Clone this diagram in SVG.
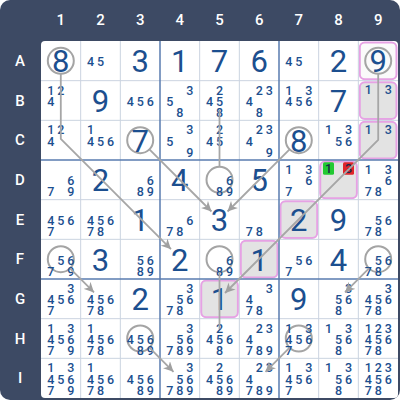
<svg xmlns="http://www.w3.org/2000/svg" width="400" height="400" viewBox="0 0 400 400">
<style>
.lbl{font-family:Roboto,"Liberation Sans",sans-serif;font-size:15px;font-weight:500;fill:#ffffff;text-anchor:middle;dominant-baseline:central}
.g{font-family:Roboto,"Liberation Sans",sans-serif;font-size:31px;font-weight:400;fill:#1c4f8f;text-anchor:middle;dominant-baseline:central}
.c{font-family:Roboto,"Liberation Sans",sans-serif;font-size:12.5px;font-weight:500;fill:#1c4f8f;text-anchor:middle;dominant-baseline:central}
.thin{stroke:#cbd4e0;stroke-width:1}
.box{stroke:#5a7cb0;stroke-width:1.5}
.hl{fill:#e3e3e3;stroke:#e6a2e4;stroke-width:2}
.ring{fill:none;stroke:#a4a4a4;stroke-width:2}
.link{fill:none;stroke:#a6a6a6;stroke-width:1.8}
</style>
<defs>
<marker id="arr" markerWidth="10" markerHeight="10" refX="10" refY="5" orient="auto" markerUnits="userSpaceOnUse">
<path d="M0,0 L10,5 L0,10 L3,5 z" fill="#a0a0a0"/>
</marker>
</defs>
<rect x="0" y="0" width="400" height="400" rx="10" fill="#3d4a64"/>
<rect x="41" y="41" width="357" height="357" rx="4" fill="#ffffff"/>
<g id="labels">
<text class="lbl" x="60.8" y="20">1</text><text class="lbl" x="100.5" y="20">2</text><text class="lbl" x="140.2" y="20">3</text><text class="lbl" x="179.8" y="20">4</text><text class="lbl" x="219.5" y="20">5</text><text class="lbl" x="259.2" y="20">6</text><text class="lbl" x="298.8" y="20">7</text><text class="lbl" x="338.5" y="20">8</text><text class="lbl" x="378.2" y="20">9</text>
<text class="lbl" x="20" y="60.8">A</text><text class="lbl" x="20" y="100.5">B</text><text class="lbl" x="20" y="140.2">C</text><text class="lbl" x="20" y="179.8">D</text><text class="lbl" x="20" y="219.5">E</text><text class="lbl" x="20" y="259.2">F</text><text class="lbl" x="20" y="298.8">G</text><text class="lbl" x="20" y="338.5">H</text><text class="lbl" x="20" y="378.2">I</text>
</g>
<g id="highlights">
<rect class="hl" x="359.8" y="42.5" width="36.7" height="36.7" rx="5" style="fill:#fafafa"/>
<rect class="hl" x="359.8" y="82.2" width="36.7" height="36.7" rx="5"/>
<rect class="hl" x="359.8" y="121.8" width="36.7" height="36.7" rx="5"/>
<rect class="hl" x="320.2" y="161.5" width="36.7" height="36.7" rx="5"/>
<rect class="hl" x="280.5" y="201.2" width="36.7" height="36.7" rx="5"/>
<rect class="hl" x="240.8" y="240.8" width="36.7" height="36.7" rx="5"/>
<rect class="hl" x="201.2" y="280.5" width="36.7" height="36.7" rx="5"/>
</g>
<g id="gridlines">
<path class="thin" d="M80.67,41V398M120.33,41V398M199.67,41V398M239.33,41V398M318.67,41V398M358.33,41V398M41,80.67H398M41,120.33H398M41,199.67H398M41,239.33H398M41,318.67H398M41,358.33H398"/>
<path class="box" d="M160,41V398M279,41V398M41,160H398M41,279H398"/>
</g>
<g id="rings">
<circle class="ring" cx="60.8" cy="60.8" r="13"/>
<circle class="ring" cx="378.2" cy="60.8" r="13"/>
<circle class="ring" cx="140.2" cy="140.2" r="13"/>
<circle class="ring" cx="298.8" cy="140.2" r="13"/>
<circle class="ring" cx="219.5" cy="179.8" r="13"/>
<circle class="ring" cx="60.8" cy="259.2" r="13"/>
<circle class="ring" cx="219.5" cy="259.2" r="13"/>
<circle class="ring" cx="378.2" cy="259.2" r="13"/>
<circle class="ring" cx="140.2" cy="338.5" r="13"/>
<circle class="ring" cx="298.8" cy="338.5" r="13"/>
</g>
<g id="A1"><text class="g" x="60.8" y="61.8">8</text></g>
<g id="A2"><text class="c" x="90.5 100.5" y="61.3">45</text></g>
<g id="A3"><text class="g" x="140.2" y="61.8">3</text></g>
<g id="A4"><text class="g" x="179.8" y="61.8">1</text></g>
<g id="A5"><text class="g" x="219.5" y="61.8">7</text></g>
<g id="A6"><text class="g" x="259.2" y="61.8">6</text></g>
<g id="A7"><text class="c" x="288.8 298.8" y="61.3">45</text></g>
<g id="A8"><text class="g" x="338.5" y="61.8">2</text></g>
<g id="A9"><text class="g" x="378.2" y="61.8">9</text></g>

<g id="B1"><text class="c"><tspan x="50.8 60.8" y="89.5">12</tspan><tspan x="50.8" y="101">4</tspan></text></g>
<g id="B2"><text class="g" x="100.5" y="101.5">9</text></g>
<g id="B3"><text class="c" x="130.2 140.2 150.2" y="101">456</text></g>
<g id="B4"><text class="c"><tspan x="189.8" y="89.5">3</tspan><tspan x="169.8" y="101">5</tspan><tspan x="179.8" y="112">8</tspan></text></g>
<g id="B5"><text class="c"><tspan x="219.5" y="89.5">2</tspan><tspan x="209.5 219.5" y="101">45</tspan><tspan x="219.5" y="112">8</tspan></text></g>
<g id="B6"><text class="c"><tspan x="259.2 269.2" y="89.5">23</tspan><tspan x="249.2" y="101">4</tspan><tspan x="259.2" y="112">8</tspan></text></g>
<g id="B7"><text class="c"><tspan x="288.8 308.8" y="89.5">13</tspan><tspan x="288.8 298.8 308.8" y="101">456</tspan></text></g>
<g id="B8"><text class="g" x="338.5" y="101.5">7</text></g>
<g id="B9"><text class="c" x="368.2 388.2" y="89.5">13</text></g>

<g id="C1"><text class="c"><tspan x="50.8 60.8" y="129.2">12</tspan><tspan x="50.8" y="140.7">4</tspan></text></g>
<g id="C2"><text class="c"><tspan x="90.5" y="129.2">1</tspan><tspan x="90.5 100.5 110.5" y="140.7">456</tspan></text></g>
<g id="C3"><text class="g" x="140.2" y="141.2">7</text></g>
<g id="C4"><text class="c"><tspan x="189.8" y="129.2">3</tspan><tspan x="169.8" y="140.7">5</tspan><tspan x="189.8" y="151.7">9</tspan></text></g>
<g id="C5"><text class="c"><tspan x="219.5" y="129.2">2</tspan><tspan x="209.5 219.5" y="140.7">45</tspan></text></g>
<g id="C6"><text class="c"><tspan x="259.2 269.2" y="129.2">23</tspan><tspan x="249.2" y="140.7">4</tspan><tspan x="269.2" y="151.7">9</tspan></text></g>
<g id="C7"><text class="g" x="298.8" y="141.2">8</text></g>
<g id="C8"><text class="c"><tspan x="328.5 348.5" y="129.2">13</tspan><tspan x="338.5 348.5" y="140.7">56</tspan></text></g>
<g id="C9"><text class="c" x="368.2 388.2" y="129.2">13</text></g>

<g id="D1"><text class="c"><tspan x="70.8" y="180.3">6</tspan><tspan x="50.8 70.8" y="191.3">79</tspan></text></g>
<g id="D2"><text class="g" x="100.5" y="180.8">2</text></g>
<g id="D3"><text class="c"><tspan x="150.2" y="180.3">6</tspan><tspan x="140.2 150.2" y="191.3">89</tspan></text></g>
<g id="D4"><text class="g" x="179.8" y="180.8">4</text></g>
<g id="D5"><text class="c"><tspan x="229.5" y="180.3">6</tspan><tspan x="219.5 229.5" y="191.3">89</tspan></text></g>
<g id="D6"><text class="g" x="259.2" y="180.8">5</text></g>
<g id="D7"><text class="c"><tspan x="288.8 308.8" y="168.8">13</tspan><tspan x="308.8" y="180.3">6</tspan><tspan x="288.8" y="191.3">7</tspan></text></g>
<g id="D8"><rect x="323" y="162.3" width="11" height="12.5" rx="1.5" fill="#22c932"/><rect x="343" y="162.3" width="11" height="12.5" rx="1.5" fill="#e0242a"/><text class="c" x="328.5 348.5" y="168.8" style="fill:#1a2a4a">13</text></g>
<g id="D9"><text class="c"><tspan x="368.2 388.2" y="168.8">13</tspan><tspan x="388.2" y="180.3">6</tspan><tspan x="368.2 378.2" y="191.3">78</tspan></text></g>

<g id="E1"><text class="c"><tspan x="50.8 60.8 70.8" y="220">456</tspan><tspan x="50.8" y="231">7</tspan></text></g>
<g id="E2"><text class="c"><tspan x="90.5 100.5 110.5" y="220">456</tspan><tspan x="90.5 100.5" y="231">78</tspan></text></g>
<g id="E3"><text class="g" x="140.2" y="220.5">1</text></g>
<g id="E4"><text class="c"><tspan x="189.8" y="220">6</tspan><tspan x="169.8 179.8" y="231">78</tspan></text></g>
<g id="E5"><text class="g" x="219.5" y="220.5">3</text></g>
<g id="E6"><text class="c" x="249.2 259.2" y="231">78</text></g>
<g id="E7"><text class="g" x="298.8" y="220.5">2</text></g>
<g id="E8"><text class="g" x="338.5" y="220.5">9</text></g>
<g id="E9"><text class="c"><tspan x="378.2 388.2" y="220">56</tspan><tspan x="368.2 378.2" y="231">78</tspan></text></g>

<g id="F1"><text class="c"><tspan x="60.8 70.8" y="259.7">56</tspan><tspan x="50.8 70.8" y="270.7">79</tspan></text></g>
<g id="F2"><text class="g" x="100.5" y="260.2">3</text></g>
<g id="F3"><text class="c"><tspan x="140.2 150.2" y="259.7">56</tspan><tspan x="140.2 150.2" y="270.7">89</tspan></text></g>
<g id="F4"><text class="g" x="179.8" y="260.2">2</text></g>
<g id="F5"><text class="c"><tspan x="229.5" y="259.7">6</tspan><tspan x="219.5 229.5" y="270.7">89</tspan></text></g>
<g id="F6"><text class="g" x="259.2" y="260.2">1</text></g>
<g id="F7"><text class="c"><tspan x="298.8 308.8" y="259.7">56</tspan><tspan x="288.8" y="270.7">7</tspan></text></g>
<g id="F8"><text class="g" x="338.5" y="260.2">4</text></g>
<g id="F9"><text class="c"><tspan x="378.2 388.2" y="259.7">56</tspan><tspan x="368.2 378.2" y="270.7">78</tspan></text></g>

<g id="G1"><text class="c"><tspan x="70.8" y="287.8">3</tspan><tspan x="50.8 60.8 70.8" y="299.3">456</tspan><tspan x="50.8" y="310.3">7</tspan></text></g>
<g id="G2"><text class="c"><tspan x="90.5 100.5 110.5" y="299.3">456</tspan><tspan x="90.5 100.5" y="310.3">78</tspan></text></g>
<g id="G3"><text class="g" x="140.2" y="299.8">2</text></g>
<g id="G4"><text class="c"><tspan x="189.8" y="287.8">3</tspan><tspan x="179.8 189.8" y="299.3">56</tspan><tspan x="169.8 179.8" y="310.3">78</tspan></text></g>
<g id="G5"><text class="g" x="219.5" y="299.8">1</text></g>
<g id="G6"><text class="c"><tspan x="269.2" y="287.8">3</tspan><tspan x="249.2" y="299.3">4</tspan><tspan x="249.2 259.2" y="310.3">78</tspan></text></g>
<g id="G7"><text class="g" x="298.8" y="299.8">9</text></g>
<g id="G8"><text class="c"><tspan x="348.5" y="287.8">3</tspan><tspan x="338.5 348.5" y="299.3">56</tspan><tspan x="338.5" y="310.3">8</tspan></text></g>
<g id="G9"><text class="c"><tspan x="388.2" y="287.8">3</tspan><tspan x="368.2 378.2 388.2" y="299.3">456</tspan><tspan x="368.2 378.2" y="310.3">78</tspan></text></g>

<g id="H1"><text class="c"><tspan x="50.8 70.8" y="327.5">13</tspan><tspan x="50.8 60.8 70.8" y="339">456</tspan><tspan x="50.8 70.8" y="350">79</tspan></text></g>
<g id="H2"><text class="c"><tspan x="90.5" y="327.5">1</tspan><tspan x="90.5 100.5 110.5" y="339">456</tspan><tspan x="90.5 100.5" y="350">78</tspan></text></g>
<g id="H3"><text class="c"><tspan x="130.2 140.2 150.2" y="339">456</tspan><tspan x="140.2 150.2" y="350">89</tspan></text></g>
<g id="H4"><text class="c"><tspan x="189.8" y="327.5">3</tspan><tspan x="179.8 189.8" y="339">56</tspan><tspan x="169.8 179.8 189.8" y="350">789</tspan></text></g>
<g id="H5"><text class="c"><tspan x="219.5" y="327.5">2</tspan><tspan x="209.5 219.5 229.5" y="339">456</tspan><tspan x="219.5" y="350">8</tspan></text></g>
<g id="H6"><text class="c"><tspan x="259.2 269.2" y="327.5">23</tspan><tspan x="249.2" y="339">4</tspan><tspan x="249.2 259.2 269.2" y="350">789</tspan></text></g>
<g id="H7"><text class="c"><tspan x="288.8 308.8" y="327.5">13</tspan><tspan x="288.8 298.8 308.8" y="339">456</tspan><tspan x="288.8" y="350">7</tspan></text></g>
<g id="H8"><text class="c"><tspan x="328.5 348.5" y="327.5">13</tspan><tspan x="338.5 348.5" y="339">56</tspan><tspan x="338.5" y="350">8</tspan></text></g>
<g id="H9"><text class="c"><tspan x="368.2 378.2 388.2" y="327.5">123</tspan><tspan x="368.2 378.2 388.2" y="339">456</tspan><tspan x="368.2 378.2" y="350">78</tspan></text></g>

<g id="I1"><text class="c"><tspan x="50.8 70.8" y="367.2">13</tspan><tspan x="50.8 60.8 70.8" y="378.7">456</tspan><tspan x="50.8 70.8" y="389.7">79</tspan></text></g>
<g id="I2"><text class="c"><tspan x="90.5" y="367.2">1</tspan><tspan x="90.5 100.5 110.5" y="378.7">456</tspan><tspan x="90.5 100.5" y="389.7">78</tspan></text></g>
<g id="I3"><text class="c"><tspan x="130.2 140.2 150.2" y="378.7">456</tspan><tspan x="140.2 150.2" y="389.7">89</tspan></text></g>
<g id="I4"><text class="c"><tspan x="189.8" y="367.2">3</tspan><tspan x="179.8 189.8" y="378.7">56</tspan><tspan x="169.8 179.8 189.8" y="389.7">789</tspan></text></g>
<g id="I5"><text class="c"><tspan x="219.5" y="367.2">2</tspan><tspan x="209.5 219.5 229.5" y="378.7">456</tspan><tspan x="219.5 229.5" y="389.7">89</tspan></text></g>
<g id="I6"><text class="c"><tspan x="259.2 269.2" y="367.2">23</tspan><tspan x="249.2" y="378.7">4</tspan><tspan x="249.2 259.2 269.2" y="389.7">789</tspan></text></g>
<g id="I7"><text class="c"><tspan x="288.8 308.8" y="367.2">13</tspan><tspan x="288.8 298.8 308.8" y="378.7">456</tspan><tspan x="288.8" y="389.7">7</tspan></text></g>
<g id="I8"><text class="c"><tspan x="328.5 348.5" y="367.2">13</tspan><tspan x="338.5 348.5" y="378.7">56</tspan><tspan x="338.5" y="389.7">8</tspan></text></g>
<g id="I9"><text class="c"><tspan x="368.2 378.2 388.2" y="367.2">123</tspan><tspan x="368.2 378.2 388.2" y="378.7">456</tspan><tspan x="368.2 378.2" y="389.7">78</tspan></text></g>

<g id="connectors">
<path class="link" d="M60.8,73.8 V139 L171,249.2" marker-end="url(#arr)"/>
<path class="link" d="M149.4,149.4 L211.5,211.5" marker-end="url(#arr)"/>
<path class="link" d="M289.6,149.4 L227.5,211.5" marker-end="url(#arr)"/>
<path class="link" d="M219.5,110 V166.8"/>
<path class="link" d="M378.2,73.8 V139.8 L225,293" marker-end="url(#arr)"/>
<path class="link" d="M219.5,272.2 V329"/>
<path class="link" d="M70,268.4 L94,292.4" marker-end="url(#arr)"/>
<path class="link" d="M369,268.4 L345,292.4" marker-end="url(#arr)"/>
<path class="link" d="M149.4,347.7 L173.5,371.8" marker-end="url(#arr)"/>
<path class="link" d="M289.6,347.7 L265.5,371.8" marker-end="url(#arr)"/>
</g>
</svg>
